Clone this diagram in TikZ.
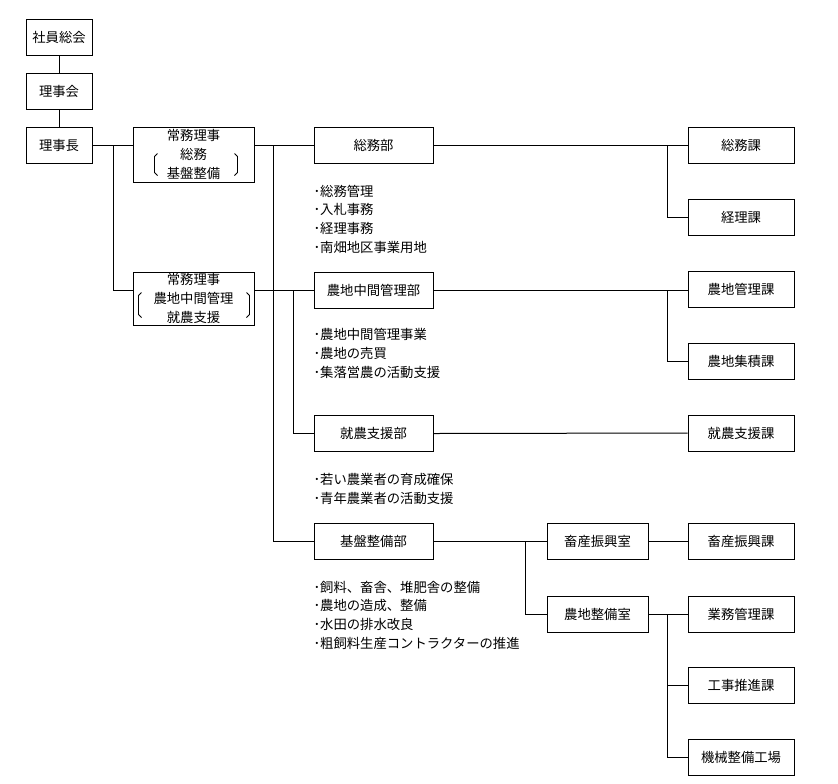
\documentclass[tikz,border=0pt]{standalone}
\usepackage{fontspec}
\setmainfont{Noto Sans CJK JP}
\usetikzlibrary{calc}

\begin{document}
\begin{tikzpicture}[x = 0.75pt, y = -0.75pt, line width = 0.75pt,
        unit/.style = {draw, inner sep = 0, minimum height = 27pt,
          font = \fontsize{10}{14}\selectfont, align = center},
        top/.style = {unit, minimum width = 49.5pt},
        exec/.style = {unit, minimum width = 90.75pt},
        dept/.style = {unit, minimum width = 89.25pt},
        room/.style = {unit, minimum width = 75.75pt},
        sect/.style = {unit, minimum width = 79.5pt},
        notes/.style = {anchor = base west, align = left, inner sep = 0,
          font = \fontsize{10}{14}\selectfont},
        bracket/.style = {line width = 0.6pt}]
        \useasboundingbox (0, 0) rectangle (838, 783);

        \node [top] (gm) at (59, 37) {社員総会};
        \node [top] (board) at (59, 91.5) {理事会};
        \node [top] (chair) at (59, 145) {理事長};

        \node [exec, minimum height = 41.25pt] (exec1) at (193.5, 154.5) {常務理事\\総務\\基盤整備};
        \node [exec, minimum height = 39.75pt] (exec2) at (193.5, 298.5) {常務理事\\農地中間管理\\就農支援};

        \node [dept] (somu) at (373.5, 145) {総務部};
        \node [dept] (nouchi) at (373.5, 290) {農地中間管理部};
        \node [dept] (shuno) at (373.5, 433.5) {就農支援部};
        \node [dept] (kiban) at (373.5, 541) {基盤整備部};

        \node [room] (chikusan) at (597.5, 541) {畜産振興室};
        \node [room] (seibi) at (597.5, 614) {農地整備室};

        \node [sect] (kasomu) at (741, 145) {総務課};
        \node [sect] (kakeiri) at (741, 217) {経理課};
        \node [sect] (kakanri) at (741, 289) {農地管理課};
        \node [sect] (kashuseki) at (741, 361) {農地集積課};
        \node [sect] (kashuno) at (741, 433) {就農支援課};
        \node [sect] (kachikusan) at (741, 541) {畜産振興課};
        \node [sect] (kagyomu) at (741, 614) {業務管理課};
        \node [sect] (kakoji) at (741, 685) {工事推進課};
        \node [sect] (kakikai) at (741, 757) {機械整備工場};

        \node [notes] (somunotes) at (313, 252) {･総務管理\\･入札事務\\･経理事務\\･南畑地区事業用地};
        \node [notes] (nouchinotes) at (313, 377) {･農地中間管理事業\\･農地の売買\\･集落営農の活動支援};
        \node [notes] (shunonotes) at (313, 503) {･若い農業者の育成確保\\･青年農業者の活動支援};
        \node [notes] (kibannotes) at (313, 648) {･飼料、畜舎、堆肥舎の整備\\･農地の造成、整備\\･水田の排水改良\\･粗飼料生産コントラクターの推進};

        \draw [bracket] ($(exec1.center) + (-36, -1)$) -- ++(-3, 3) -- ++(0, 16) -- ++(3, 3);
        \draw [bracket] ($(exec1.center) + (41, -1)$) -- ++(3, 3) -- ++(0, 16) -- ++(-3, 3);
        \draw [bracket] ($(exec2.center) + (-52, -6)$) -- ++(-3, 3) -- ++(0, 19) -- ++(3, 3);
        \draw [bracket] ($(exec2.center) + (53, -6)$) -- ++(3, 3) -- ++(0, 19) -- ++(-3, 3);

        \draw (gm) -- (board);
        \draw (board) -- (chair);
        \draw (chair.east) -- (chair.east -| exec1.west);
        \draw (chair.east) ++(21, 0) |- (exec2.west |- nouchi);

        \draw (exec1.east |- somu) -- (somu.west);
        \draw (somu.west) ++(-40, 0) |- (kiban.west);
        \draw (exec2.east |- nouchi) -- (nouchi.west);
        \draw (nouchi.west) ++(-20, 0) |- (shuno.west);

        \draw (somu.east) -- (kasomu.west);
        \draw (kasomu.west) ++(-20, 0) |- (kakeiri.west);
        \draw (nouchi.east) -- (nouchi.east -| kakanri.west);
        \draw (kakanri.west |- nouchi) ++(-20, 0) |- (kashuseki.west);
        \draw (shuno.east) -- (kashuno.west);

        \draw (kiban.east) -- (chikusan.west);
        \draw (chikusan.west) ++(-21, 0) |- (seibi.west);
        \draw (chikusan.east) -- (kachikusan.west);
        \draw (seibi.east) -- (kagyomu.west);
        \draw (kagyomu.west) ++(-20, 0) |- (kakoji.west);
        \draw (kagyomu.west) ++(-20, 0) |- (kakikai.west);
      \end{tikzpicture}
\end{document}
